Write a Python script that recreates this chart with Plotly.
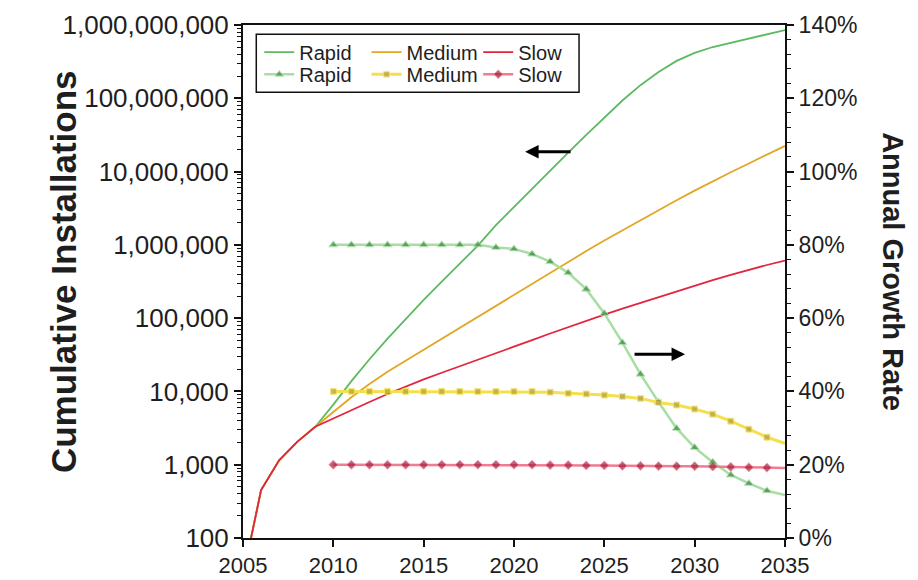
import plotly.graph_objects as go

# ---------------- data ----------------
years = list(range(2005, 2036))
rate_years = list(range(2010, 2036))

rapid_cum = [30, 450, 1150, 2050, 3300, 6600, 13800, 27500, 52500, 97700,
             178000, 316000, 562000, 977000, 1860000, 3310000, 5890000,
             10500000, 18200000, 31600000, 55000000, 93300000, 151000000,
             229000000, 324000000, 417000000, 501000000, 575000000,
             661000000, 759000000, 851000000]
medium_cum = [30, 450, 1150, 2050, 3300, 5250, 8320, 12600, 18600, 26300,
              37200, 52500, 74100, 105000, 148000, 209000, 295000, 417000,
              589000, 822000, 1150000, 1580000, 2190000, 3020000, 4070000,
              5500000, 7410000, 9770000, 12900000, 17000000, 22400000]
slow_cum = [30, 450, 1150, 2050, 3300, 4300, 5570, 7180, 9220, 11750, 14600,
            18000, 22000, 26900, 33100, 40700, 50100, 61700, 75900, 93300,
            112000, 135000, 162000, 195000, 234000, 279000, 331000, 389000,
            457000, 531000, 610000]

rapid_rate = [80, 80, 80, 80, 80, 80, 80, 80, 80, 79.3, 78.9, 77.5, 75.4,
              72.4, 67.9, 61.3, 53.3, 44.7, 37.1, 29.9, 24.7, 20.7, 17.2,
              14.9, 12.9, 11.7]
medium_rate = [40, 40, 40, 40, 40, 40, 40, 40, 40, 40, 40, 40, 39.8, 39.5,
               39.3, 39.0, 38.6, 38.1, 37.0, 36.3, 35.2, 33.8, 31.9, 29.7,
               27.5, 25.8]
slow_rate = [20, 20, 20, 20, 20, 20, 20, 20, 20, 20, 20, 20, 19.9, 19.9,
             19.8, 19.8, 19.7, 19.7, 19.6, 19.6, 19.6, 19.5, 19.4, 19.3,
             19.2, 19.1]

left_tickvals = [1e2, 1e3, 1e4, 1e5, 1e6, 1e7, 1e8, 1e9]
left_ticktext = ["100", "1,000", "10,000", "100,000", "1,000,000",
                 "10,000,000", "100,000,000", "1,000,000,000"]
right_tickvals = [0, 20, 40, 60, 80, 100, 120, 140]
right_ticktext = ["0%", "20%", "40%", "60%", "80%", "100%", "120%", "140%"]
x_tickvals = [2005, 2010, 2015, 2020, 2025, 2030, 2035]

# ---------------- style ----------------
FONT = "Liberation Sans, Arial, sans-serif"
TXT = "#1e1e1e"
AX = "#111111"
C_RAPID = "#5DB962"
C_MED = "#E3A624"
C_SLOW = "#E2263E"
C_RAPID_R = "#A9DDA4"
C_MED_R = "#F3E04C"
C_SLOW_R = "#F27A92"
M_RAPID = "#378A3A"
M_MED = "#B49E36"
M_SLOW = "#A3203A"

n_rate = len(rate_years)
msize = lambda s: [s] * (n_rate - 1) + [0]

fig = go.Figure()

# cumulative lines (left axis) -> legend row 1
fig.add_trace(go.Scatter(x=years, y=rapid_cum, name="Rapid", mode="lines",
                         line=dict(color=C_RAPID, width=1.8), legend="legend"))
fig.add_trace(go.Scatter(x=years, y=medium_cum, name="Medium", mode="lines",
                         line=dict(color=C_MED, width=1.8), legend="legend2"))
fig.add_trace(go.Scatter(x=years, y=slow_cum, name="Slow", mode="lines",
                         line=dict(color=C_SLOW, width=1.8), legend="legend3"))

# growth rates (right axis) -> legend row 2
fig.add_trace(go.Scatter(x=rate_years, y=rapid_rate, name="Rapid", yaxis="y2",
                         mode="lines+markers",
                         line=dict(color=C_RAPID_R, width=2.5),
                         marker=dict(symbol="triangle-up", size=msize(8), color=M_RAPID),
                         legend="legend4"))
fig.add_trace(go.Scatter(x=rate_years, y=medium_rate, name="Medium", yaxis="y2",
                         mode="lines+markers",
                         line=dict(color=C_MED_R, width=3),
                         marker=dict(symbol="square", size=msize(6), color=M_MED),
                         legend="legend5"))
fig.add_trace(go.Scatter(x=rate_years, y=slow_rate, name="Slow", yaxis="y2",
                         mode="lines+markers",
                         line=dict(color=C_SLOW_R, width=2.5),
                         marker=dict(symbol="diamond", size=msize(7), color=M_SLOW),
                         legend="legend6"))

minor_left = [m * 10 ** k for k in range(2, 9) for m in range(2, 10)]

def leg(x, y):
    return dict(orientation="h", x=x, y=y, xanchor="left", yanchor="middle",
                bgcolor="rgba(0,0,0,0)", borderwidth=0,
                font=dict(size=20, family=FONT, color=TXT),
                itemwidth=30, traceorder="normal", tracegroupgap=0)

COLS = [0.030, 0.228, 0.434]
ROW1, ROW2 = 0.947, 0.904

fig.update_layout(
    # page body has an 8px margin: figure sized/offset so plot area sits at
    # x 243..785, y 25..538 of the 918x580 window
    width=910, height=572,
    margin=dict(l=235, r=133, t=17, b=42, autoexpand=False),
    paper_bgcolor="white", plot_bgcolor="white",
    font=dict(family=FONT, color=TXT, size=20),
    showlegend=True,
    xaxis=dict(range=[2005, 2035], tickvals=x_tickvals, ticks="outside",
               ticklen=7, tickwidth=1.5, tickcolor=AX, automargin=False,
               showline=True, linecolor=AX, linewidth=2, mirror=True,
               showgrid=False, zeroline=False,
               tickfont=dict(size=22, family=FONT, color=TXT)),
    yaxis=dict(type="log", range=[2, 9], tickvals=left_tickvals,
               ticktext=left_ticktext, ticks="outside", ticklen=7,
               tickwidth=2, tickcolor=AX, automargin=False,
               minor=dict(tickvals=minor_left, ticks="outside", ticklen=4,
                          tickwidth=1, tickcolor=AX, showgrid=False),
               showline=True, linecolor=AX, linewidth=2,
               showgrid=False, zeroline=False,
               tickfont=dict(size=26, family=FONT, color=TXT)),
    yaxis2=dict(overlaying="y", side="right", range=[0, 140],
                tickvals=right_tickvals, ticktext=right_ticktext,
                ticks="outside", ticklen=7, tickwidth=2, tickcolor=AX,
                automargin=False,
                minor=dict(dtick=4, ticks="outside", ticklen=4, tickwidth=1,
                           tickcolor=AX, showgrid=False),
                showline=True, linecolor=AX, linewidth=2,
                showgrid=False, zeroline=False,
                tickfont=dict(size=23, family=FONT, color=TXT)),
    # inner halves of the crossing tick marks
    yaxis3=dict(overlaying="y", side="left", type="log", range=[2, 9],
                tickvals=left_tickvals, ticks="inside", ticklen=5,
                tickwidth=2, tickcolor=AX, showticklabels=False,
                automargin=False,
                minor=dict(tickvals=minor_left, ticks="inside", ticklen=3,
                           tickwidth=1, tickcolor=AX, showgrid=False),
                showline=False, showgrid=False, zeroline=False),
    yaxis4=dict(overlaying="y", side="right", range=[0, 140],
                tickvals=right_tickvals, ticks="inside", ticklen=5,
                tickwidth=2, tickcolor=AX, showticklabels=False,
                automargin=False,
                minor=dict(dtick=4, ticks="inside", ticklen=3, tickwidth=1,
                           tickcolor=AX, showgrid=False),
                showline=False, showgrid=False, zeroline=False),
    legend=leg(COLS[0], ROW1),
    legend2=leg(COLS[1], ROW1),
    legend3=leg(COLS[2], ROW1),
    legend4=leg(COLS[0], ROW2),
    legend5=leg(COLS[1], ROW2),
    legend6=leg(COLS[2], ROW2),
    shapes=[dict(type="rect", xref="paper", yref="paper",
                 x0=0.0245, x1=0.620, y0=0.869, y1=0.982,
                 line=dict(color=AX, width=1.5),
                 fillcolor="rgba(255,255,255,0)")],
    annotations=[
        dict(text="<b>Cumulative Installations</b>", xref="paper", yref="paper",
             x=-0.332, y=0.5185, textangle=-90, showarrow=False,
             font=dict(size=35, family=FONT, color=TXT),
             xanchor="center", yanchor="middle"),
        dict(text="<b>Annual Growth Rate</b>", xref="paper", yref="paper",
             x=1.199, y=0.5185, textangle=90, showarrow=False,
             font=dict(size=29, family=FONT, color=TXT),
             xanchor="center", yanchor="middle"),
        dict(text="", xref="paper", yref="paper", x=0.5205, y=0.753,
             ax=47, ay=0, showarrow=True, arrowhead=2, arrowsize=0.9,
             arrowwidth=3, arrowcolor="#000000"),
        dict(text="", xref="paper", yref="paper", x=0.8156, y=0.358,
             ax=-52, ay=0, showarrow=True, arrowhead=2, arrowsize=0.9,
             arrowwidth=3, arrowcolor="#000000"),
    ],
)

fig.write_html("out.html")
